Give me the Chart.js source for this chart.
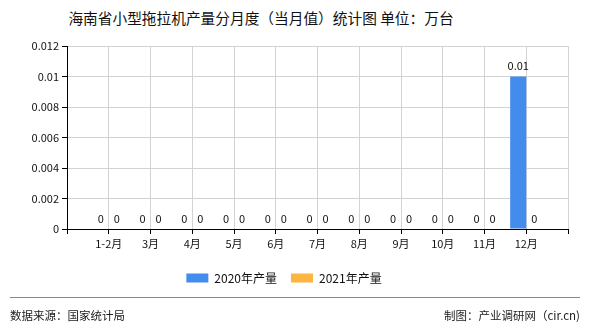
<!DOCTYPE html>
<html>
<head>
<meta charset="utf-8">
<script src="https://cdn.jsdelivr.net/npm/chart.js@4"></script>
<style>
    html, body { margin: 0; padding: 0; background: #fff; }
    .wrap { position: relative; width: 590px; height: 330px; font-family: "Noto Sans CJK SC", sans-serif; }
    .title { position: absolute; left: 0; width: 522px; top: 7px; text-align: center; font-size: 14.7px; color: #111; }
    .rule { position: absolute; left: 10px; width: 570px; top: 297px; height: 1px; background: #888; }
    .src { position: absolute; left: 10px; top: 307px; font-size: 11.5px; color: #222; }
    .by { position: absolute; right: 10px; top: 307px; font-size: 11.5px; color: #222; }
    canvas { position: absolute; left: 0; top: 0; }
</style>
</head>
<body>
<div class="wrap">
    <div class="title">海南省小型拖拉机产量分月度（当月值）统计图 单位：万台</div>
    <canvas id="chart" width="590" height="330"></canvas>
    <div class="rule"></div>
    <div class="src">数据来源：国家统计局</div>
    <div class="by">制图：产业调研网（cir.cn)</div>
</div>
<script>
const categories = ['1-2月', '3月', '4月', '5月', '6月', '7月', '8月', '9月', '10月', '11月', '12月'];
const values2020 = [0, 0, 0, 0, 0, 0, 0, 0, 0, 0, 0.01];
const values2021 = [0, 0, 0, 0, 0, 0, 0, 0, 0, 0, 0];
const yTicks = [0, 0.002, 0.004, 0.006, 0.008, 0.01, 0.012];

// the axis leaves one empty slot at each end, labels sit on grid lines
const labels = ['', ...categories, ''];
const pad = arr => [null, ...arr, null];

const fontFamily = '"Noto Sans CJK SC", sans-serif';

const valueLabels = {
    id: 'valueLabels',
    afterDatasetsDraw(chart) {
        const ctx = chart.ctx;
        ctx.save();
        ctx.font = '11px ' + fontFamily;
        ctx.fillStyle = '#111';
        ctx.textAlign = 'center';
        ctx.textBaseline = 'bottom';
        chart.data.datasets.forEach((ds, i) => {
            chart.getDatasetMeta(i).data.forEach((bar, j) => {
                const v = ds.data[j];
                if (v === null) return;
                ctx.fillText(String(v), bar.x, bar.y - 5);
            });
        });
        ctx.restore();
    }
};

new Chart(document.getElementById('chart'), {
    type: 'bar',
    data: {
        labels: labels,
        datasets: [{
            label: '2020年产量',
            data: pad(values2020),
            backgroundColor: '#438bec',
            categoryPercentage: 0.77,
            barPercentage: 1
        }, {
            label: '2021年产量',
            data: pad(values2021),
            backgroundColor: '#fdb541',
            categoryPercentage: 0.77,
            barPercentage: 1
        }]
    },
    options: {
        responsive: false,
        animation: false,
        layout: {
            padding: { top: 46, left: 0, right: 22, bottom: 36 }
        },
        plugins: {
            tooltip: { enabled: false },
            legend: {
                position: 'bottom',
                labels: {
                    boxWidth: 22,
                    boxHeight: 9,
                    padding: 14,
                    color: '#111',
                    font: { size: 12, family: fontFamily }
                }
            }
        },
        scales: {
            x: {
                offset: false,
                grid: {
                    offset: false,
                    color: '#d3d3d3',
                    tickColor: '#000',
                    tickLength: 5
                },
                border: { color: '#000' },
                ticks: {
                    autoSkip: false,
                    maxRotation: 0,
                    padding: 3,
                    color: '#111',
                    font: { size: 11, family: fontFamily }
                },
                afterFit: s => { s.height = 29; }
            },
            y: {
                min: 0,
                max: 0.012,
                grid: {
                    color: '#d3d3d3',
                    tickColor: '#000',
                    tickLength: 5
                },
                border: { color: '#000' },
                afterBuildTicks: s => { s.ticks = yTicks.map(v => ({ value: v })); },
                ticks: {
                    padding: 3,
                    color: '#111',
                    font: { size: 11, family: fontFamily },
                    callback: v => String(Number(v.toFixed(3)))
                },
                afterFit: s => { s.width = 67; }
            }
        }
    },
    plugins: [valueLabels]
});
</script>
</body>
</html>
